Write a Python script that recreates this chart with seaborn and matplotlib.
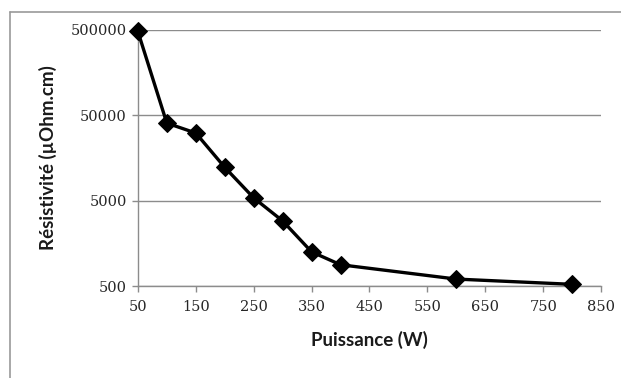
import matplotlib
matplotlib.use("Agg")
import matplotlib.pyplot as plt
import matplotlib.ticker as mticker
import seaborn as sns
import pandas as pd

# data
puissance = [50, 100, 150, 200, 250, 300, 350, 400, 600, 800]
resistivite = [480000, 40500, 31000, 12300, 5400, 2900, 1260, 890, 605, 525]

x_ticks = [50, 150, 250, 350, 450, 550, 650, 750, 850]
y_ticks = [500, 5000, 50000, 500000]

df = pd.DataFrame({"Puissance": puissance, "Resistivite": resistivite})

sns.set_style("white")
plt.rcParams["font.family"] = ["DejaVu Serif", "Liberation Serif"]

fig = plt.figure(figsize=(6.21, 3.78), dpi=100)
ax = fig.add_axes([0.222, 0.243, 0.746, 0.678])

sns.lineplot(data=df, x="Puissance", y="Resistivite", ax=ax, color="black",
             linewidth=2.4, marker="D", markersize=9, markeredgecolor="black",
             clip_on=False, zorder=5)

ax.set_yscale("log")
ax.set_ylim(500, 500000)
ax.set_xlim(50, 850)
ax.set_xticks(x_ticks)
ax.set_yticks(y_ticks)
ax.yaxis.set_major_formatter(mticker.FuncFormatter(lambda v, p: f"{int(round(v))}"))
ax.yaxis.set_minor_locator(mticker.NullLocator())

ax.grid(axis="y", color="#8c8c8c", linewidth=1)
ax.grid(axis="x", visible=False)
for side in ["top", "right"]:
    ax.spines[side].set_visible(False)
for side in ["left", "bottom"]:
    ax.spines[side].set_color("#8c8c8c")
    ax.spines[side].set_linewidth(1)

ax.tick_params(axis="both", which="major", labelsize=10.5, color="#8c8c8c",
               length=4, width=1, direction="out")
ax.tick_params(axis="x", pad=6)
ax.tick_params(axis="y", pad=4)
ax.tick_params(left=True, bottom=True)

label_font = {"family": ["Lato", "DejaVu Sans"], "weight": "bold", "size": 13.5}
ax.set_xlabel("Puissance (W)", fontdict=label_font, labelpad=12, color="#1a1a1a")
ax.set_ylabel("Résistivité (µOhm.cm)", fontdict=label_font, labelpad=10, color="#1a1a1a")

# light frame around the chart area: only top and left edges fall inside the image
fig.add_artist(plt.Line2D([0.016, 1.0], [0.968, 0.968], transform=fig.transFigure,
                          color="#999999", linewidth=1.2))
fig.add_artist(plt.Line2D([0.016, 0.016], [0.0, 0.968], transform=fig.transFigure,
                          color="#999999", linewidth=1.2))

fig.savefig("out.png", dpi=100)
